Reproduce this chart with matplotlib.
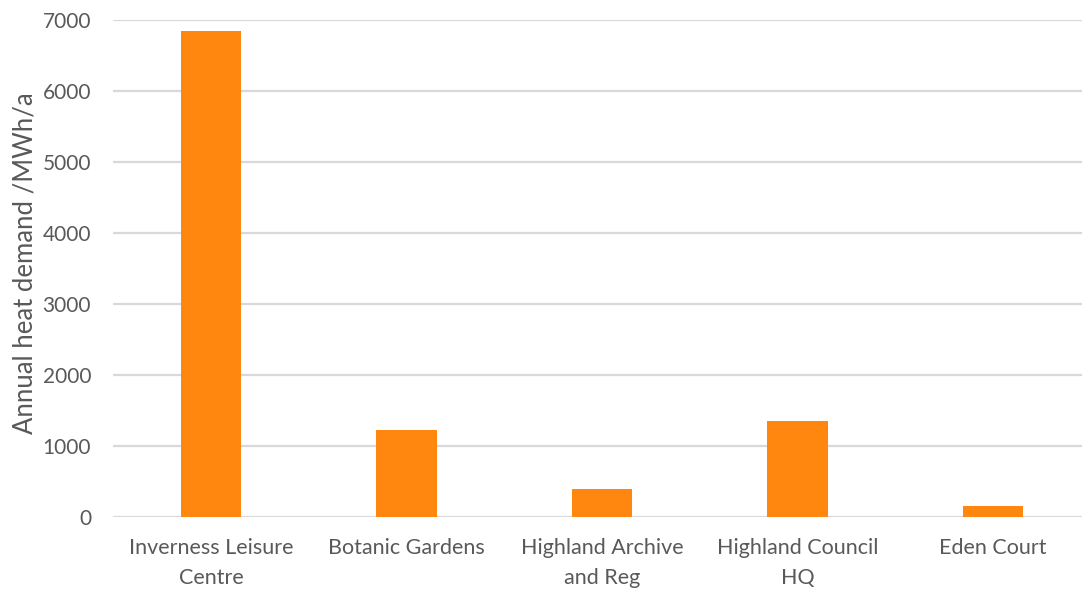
import matplotlib
matplotlib.use('Agg')
import matplotlib.pyplot as plt
import numpy as np

### Data

sites = ['Inverness Leisure\nCentre', 'Botanic Gardens', 'Highland Archive\nand Reg',
         'Highland Council\nHQ', 'Eden Court']
heat_demand = [6840, 1222, 386, 1348, 155]
y_ticks = [0, 1000, 2000, 3000, 4000, 5000, 6000, 7000]

### Style

plt.rcParams['font.family'] = ['Lato', 'DejaVu Sans']
text_color = '#595959'
bar_color = '#FF870F'
grid_color = '#D9D9D9'

### Figure

fig = plt.figure(figsize=(10.82, 5.92), dpi=100)
ax = fig.add_axes([0.1047, 0.1272, 0.9034, 0.839])

x = np.arange(len(sites))
ax.bar(x, heat_demand, width=0.31, color=bar_color, zorder=2)

ax.set_xlim(-0.5, len(sites) - 0.5)
ax.set_ylim(0, 7000)
ax.set_yticks(y_ticks)
ax.set_xticks(x)
ax.set_xticklabels(sites, linespacing=1.65)

ax.yaxis.grid(True, color=grid_color, linewidth=1.6, zorder=0)
ax.set_axisbelow(True)
for side in ['top', 'right', 'left', 'bottom']:
    ax.spines[side].set_visible(False)

ax.tick_params('y', length=0, pad=16, labelsize=15, labelcolor=text_color)
ax.tick_params('x', length=0, pad=15, labelsize=15.5, labelcolor=text_color)

ax.set_ylabel('Annual heat demand /MWh/a', fontsize=18.5, color=text_color)
ax.yaxis.set_label_coords(-0.078, 0.51)

fig.savefig('out.png', dpi=100)
plt.close(fig)
